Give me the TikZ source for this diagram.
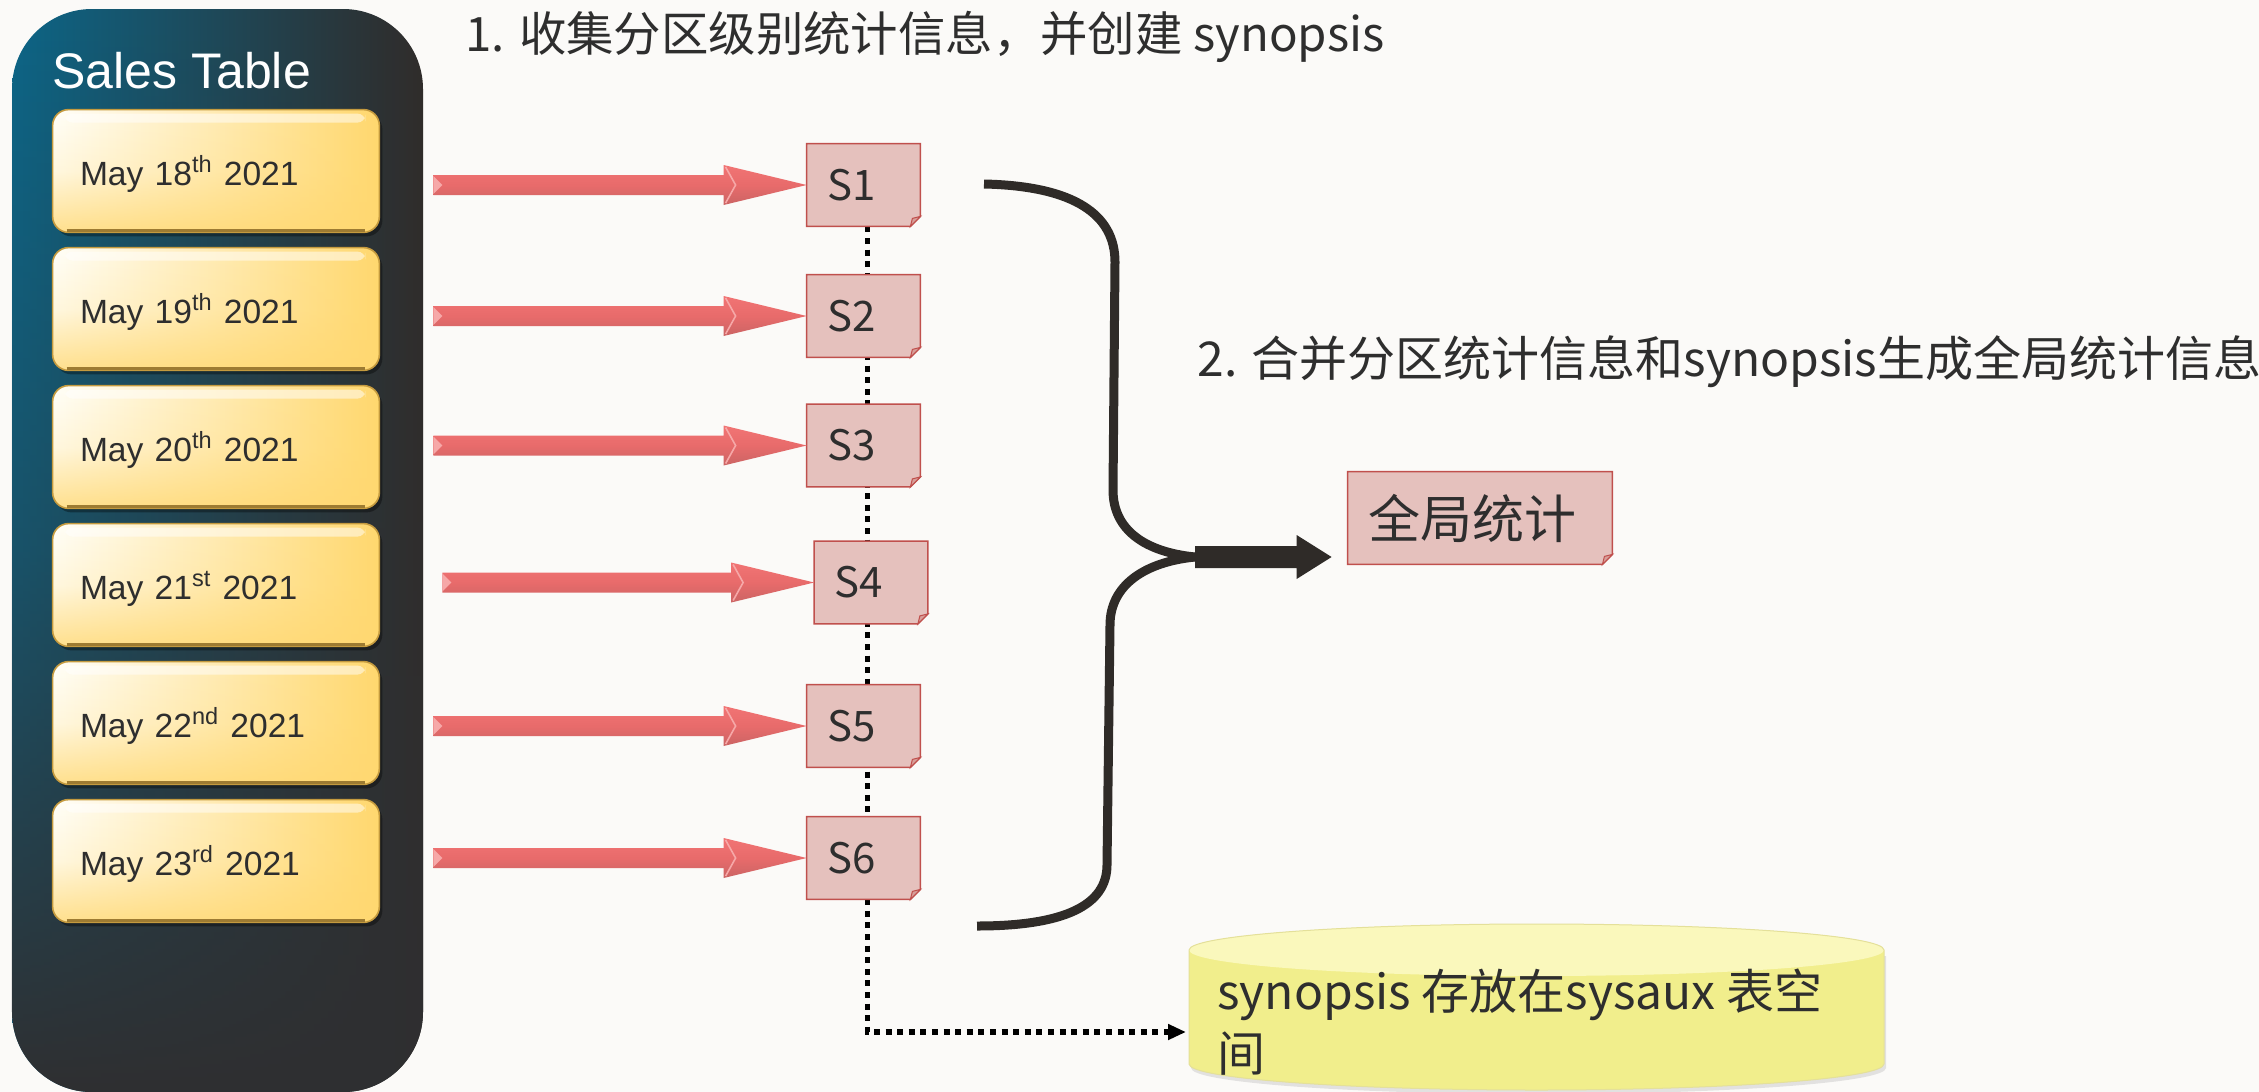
\documentclass[tikz,border=0pt]{standalone}
\usepackage{fontspec}
\setmainfont{Liberation Sans}
\newfontfamily\cjk{Noto Sans CJK SC}
\usetikzlibrary{calc,fadings,arrows.meta}
\pgfdeclarelayer{background}
\pgfsetlayers{background,main}
\definecolor{pagebg}{HTML}{FBFAF8}
\definecolor{panelL}{HTML}{0C6688}
\definecolor{panelM}{HTML}{1A5672}
\definecolor{panelR}{HTML}{302C2A}
\definecolor{panelB}{HTML}{2F2F31}
\definecolor{goldL}{HTML}{FFFFFA}
\definecolor{goldM}{HTML}{FFEDB8}
\definecolor{goldR}{HTML}{FFD86E}
\definecolor{goldB}{HTML}{FFD872}
\definecolor{goldEdge}{HTML}{C49A3E}
\definecolor{sfill}{HTML}{E5C1BD}
\definecolor{sedge}{HTML}{C0504D}
\definecolor{sflap}{HTML}{D79E99}
\definecolor{darkc}{HTML}{2F2B28}
\definecolor{txt}{HTML}{2E2E2E}
\definecolor{arrT}{HTML}{F17474}
\definecolor{arrM}{HTML}{E86B6B}
\definecolor{arrB}{HTML}{CB6464}
\definecolor{arrL}{HTML}{F6A8A8}
\definecolor{cylL}{HTML}{F1EE8C}
\definecolor{cylM}{HTML}{FBF9A4}
\definecolor{cylT}{HTML}{FAF8BC}
\definecolor{cylE}{HTML}{E4E09A}
\tikzfading[name=fadepanel, top color=transparent!100, bottom color=transparent!0, middle color=transparent!65]
\tikzfading[name=fadelow, top color=transparent!100, bottom color=transparent!20, middle color=transparent!80]
\tikzset{
  datebox/.style={minimum height=61pt, text width=136pt, text height=14pt, text depth=0pt, inner xsep=13.5pt, inner ysep=0pt, align=left, font=\fontsize{16.8}{20}\selectfont, text=txt},
  sbox/.style={minimum height=41pt, text width=36.5pt, inner xsep=10pt, inner ysep=0pt, align=left, font=\cjk\fontsize{21}{25}\selectfont, text=txt},
  globbox/.style={minimum height=46pt, text width=112pt, inner xsep=10pt, inner ysep=0pt, align=left, font=\cjk\fontsize{26}{30}\selectfont, text=txt},
  cjktitle/.style={anchor=base west, inner sep=0pt, font=\cjk\fontsize{24}{29}\selectfont, text=txt},
  dotline/.style={line width=2.8pt, dash pattern=on 3pt off 2.8pt, black},
  bracepath/.style={line width=4.5pt, draw=darkc},
  sshape/.style={fill=sfill, draw=sedge, line width=0.7pt},
}
\newcommand\foldshape[1]{%
  \path[sshape] (#1.north west) -- (#1.north east) -- ([yshift=5pt]#1.south east) -- ([xshift=-5pt]#1.south east) -- (#1.south west) -- cycle;
  \path[fill=sflap, draw=sedge, line width=0.5pt] ([yshift=5pt]#1.south east) -- ([xshift=-5pt]#1.south east) -- ([shift={(-4pt,4pt)}]#1.south east) -- cycle;
}
\newcommand\redarrow[2]{%
  \shade[top color=arrT, bottom color=arrB, middle color=arrM]
    ($(#1)+(0,-10)$) -- ($(#2)+(-83,-10)$) -- ($(#2)+(-83,-20)$) -- (#2) -- ($(#2)+(-83,20)$) -- ($(#2)+(-83,10)$) -- ($(#1)+(0,10)$) -- cycle;
  \fill[arrL] ($(#1)+(0,-9)$) -- ($(#1)+(9,0)$) -- ($(#1)+(0,9)$) -- cycle;
  \draw[arrL, line width=0.8pt] ($(#2)+(-81,-18)$) -- ($(#2)+(-71,0)$) -- ($(#2)+(-81,18)$);
}
\begin{document}
\begin{tikzpicture}[x=0.5pt, y=-0.5pt]
\useasboundingbox (0,0) rectangle (2259,1092);
% texts and nodes
\node[anchor=base west, inner sep=0pt, text=white, font=\fontsize{25}{30}\selectfont] (st) at (52,88) {Sales Table};
\node[datebox] (d1) at (216,171) {May 18\textsuperscript{th} 2021};
\node[datebox] (d2) at (216,309) {May 19\textsuperscript{th} 2021};
\node[datebox] (d3) at (216,447) {May 20\textsuperscript{th} 2021};
\node[datebox] (d4) at (216,585) {May 21\textsuperscript{st} 2021};
\node[datebox] (d5) at (216,723) {May 22\textsuperscript{nd} 2021};
\node[datebox] (d6) at (216,861) {May 23\textsuperscript{rd} 2021};
\node[sbox] (s1) at (863.5,185) {S1};
\node[sbox] (s2) at (863.5,316) {S2};
\node[sbox] (s3) at (863.5,445.5) {S3};
\node[sbox] (s4) at (871,582.5) {S4};
\node[sbox] (s5) at (863.5,726) {S5};
\node[sbox] (s6) at (863.5,858) {S6};
\node[globbox] (glob) at (1480,518) {全局统计};
\node[cjktitle, font=\cjk\fontsize{23.7}{28}\selectfont] (t1) at (465,51) {1. 收集分区级别统计信息，并创建 synopsis};
\node[cjktitle] (t2) at (1197,376) {2. 合并分区统计信息和synopsis生成全局统计信息};
\node[anchor=north west, inner sep=0pt, align=left, font=\cjk\fontsize{24}{31}\selectfont, text=txt] (syn) at (1217,968) {synopsis 存放在sysaux 表空\\间};
% coordinates
\coordinate (a1) at ([xshift=27pt]d1.east |- s1.west);
\coordinate (a2) at ([xshift=27pt]d2.east |- s2.west);
\coordinate (a3) at ([xshift=27pt]d3.east |- s3.west);
\coordinate (a4) at ([xshift=31.5pt]d4.east |- s4.west);
\coordinate (a5) at ([xshift=27pt]d5.east |- s5.west);
\coordinate (a6) at ([xshift=27pt]d6.east |- s6.west);
\coordinate (btop) at (984,184);
\coordinate (bbot) at (977,926);
\coordinate (bm) at (1195,557);
\coordinate (garr) at ([xshift=-8pt]glob.west |- bm);
\coordinate (cylw) at (1186,1032);
\begin{pgfonlayer}{background}
\fill[pagebg] (0,0) rectangle (2259,1092);
% panel
\shade[left color=panelL, middle color=panelM, right color=panelR, rounded corners=40pt] (12,9) rectangle (423,1092);
\fill[panelB, path fading=fadepanel, rounded corners=40pt] (12,9) rectangle (423,1092);
% date boxes
\foreach \i in {1,...,6}{
  \fill[black, opacity=0.35, rounded corners=8pt] ([shift={(3,4)}]d\i.north west) rectangle ([shift={(3,4)}]d\i.south east);
  \shade[rounded corners=8pt, left color=goldL, middle color=goldM, right color=goldR] (d\i.north west) rectangle (d\i.south east);
  \fill[goldB, path fading=fadelow, rounded corners=8pt] (d\i.north west) rectangle (d\i.south east);
  \fill[white, opacity=0.5, rounded corners=4pt] ([shift={(12,4)}]d\i.north west) rectangle ([shift={(-14,13)}]d\i.north east);
  \draw[goldEdge, line width=0.8pt, rounded corners=8pt] (d\i.north west) rectangle (d\i.south east);
  \draw[goldEdge!80!black, line width=1.5pt] ([shift={(14,-2)}]d\i.south west) -- ([shift={(-14,-2)}]d\i.south east);
}
% dotted connector
\draw[dotline, -{Triangle[length=9pt,width=7.5pt]}] ([xshift=2pt]s1.south) |- (cylw);
% S boxes
\foldshape{s1}\foldshape{s2}\foldshape{s3}\foldshape{s4}\foldshape{s5}\foldshape{s6}\foldshape{glob}
% cylinder
\fill[gray, opacity=0.2] (1191,956) -- (1191,1068) .. controls (1191,1082.4) and (1346.6,1094) .. (1538.5,1094) .. controls (1730.4,1094) and (1886,1082.4) .. (1886,1068) -- (1886,956) -- cycle;
\shade[left color=cylL, middle color=cylM, right color=cylL]
  (1189,950) -- (1189,1064) .. controls (1189,1078.4) and (1344.6,1090) .. (1536.5,1090) .. controls (1728.4,1090) and (1884,1078.4) .. (1884,1064) -- (1884,950)
  .. controls (1884,935.6) and (1728.4,924) .. (1536.5,924) .. controls (1344.6,924) and (1189,935.6) .. (1189,950) -- cycle;
\fill[cylT] (1189,950) .. controls (1189,935.6) and (1344.6,924) .. (1536.5,924) .. controls (1728.4,924) and (1884,935.6) .. (1884,950)
  .. controls (1884,964.4) and (1728.4,976) .. (1536.5,976) .. controls (1344.6,976) and (1189,964.4) .. (1189,950) -- cycle;
\draw[cylE, line width=0.5pt] (1189,950) -- (1189,1064) .. controls (1189,1078.4) and (1344.6,1090) .. (1536.5,1090) .. controls (1728.4,1090) and (1884,1078.4) .. (1884,1064) -- (1884,950)
  .. controls (1884,935.6) and (1728.4,924) .. (1536.5,924) .. controls (1344.6,924) and (1189,935.6) .. (1189,950) -- cycle;
% red arrows
\redarrow{a1}{s1.west}
\redarrow{a2}{s2.west}
\redarrow{a3}{s3.west}
\redarrow{a4}{s4.west}
\redarrow{a5}{s5.west}
\redarrow{a6}{s6.west}
% brace
\draw[bracepath] (btop) .. controls (1075,186) and (1115,215) .. (1115,262) -- (1113,490) .. controls (1113,530) and (1145,552) .. (bm);
\draw[bracepath] (bm) .. controls (1145,562) and (1110,585) .. (1110,625) -- (1107,865) .. controls (1107,905) and (1065,926) .. (bbot);
\fill[darkc] ($(bm)+(0,-11)$) -- ($(garr)+(-35,-11)$) -- ($(garr)+(-35,-22)$) -- (garr) -- ($(garr)+(-35,22)$) -- ($(garr)+(-35,11)$) -- ($(bm)+(0,11)$) -- cycle;
\end{pgfonlayer}
\end{tikzpicture}
\end{document}
